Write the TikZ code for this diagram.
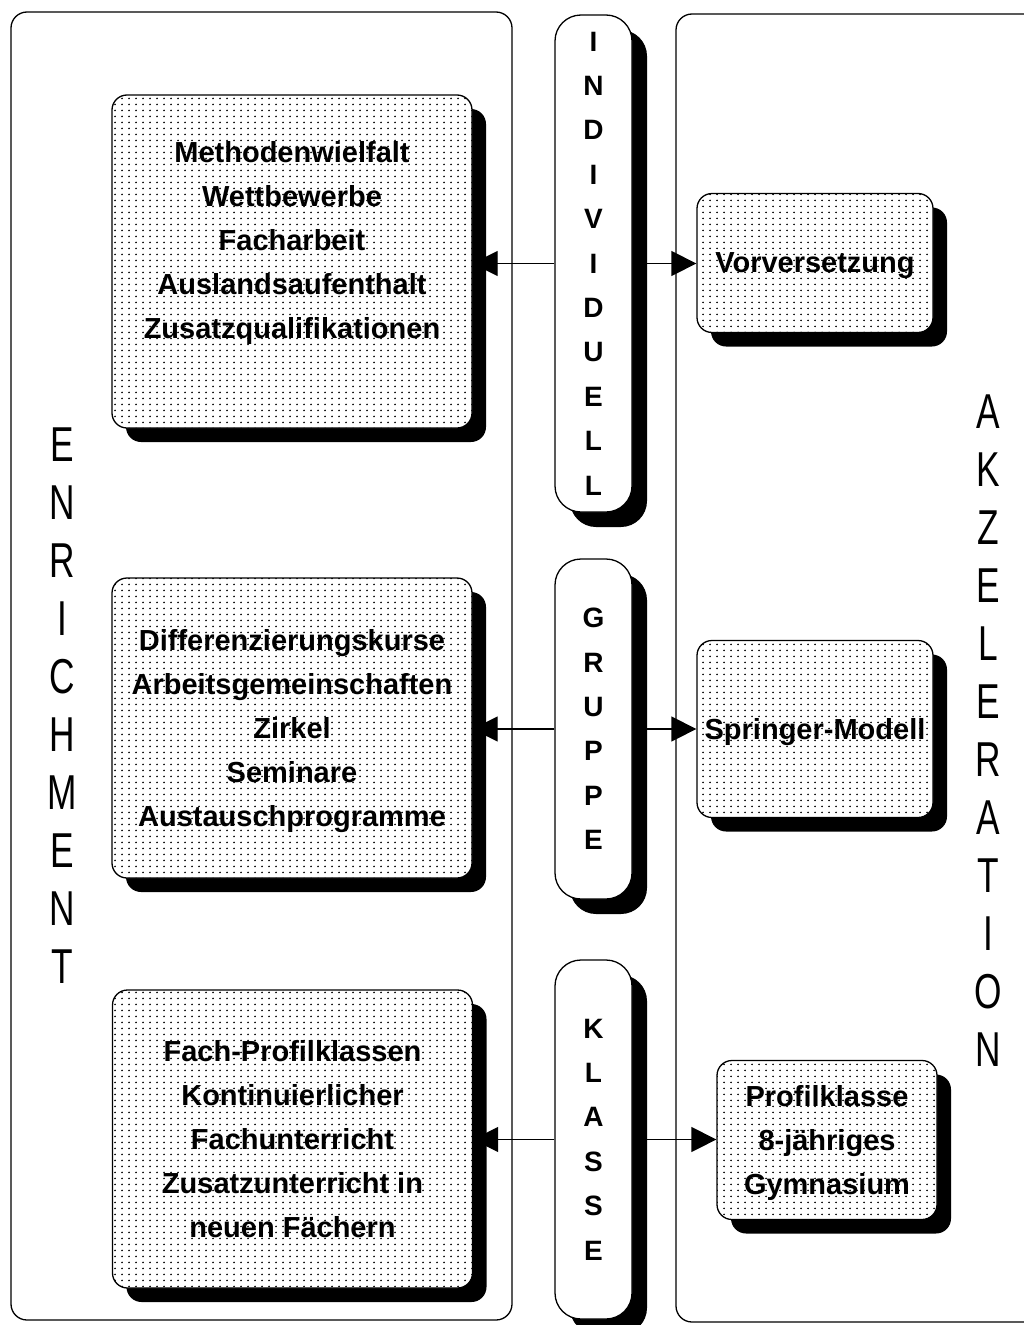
\documentclass[tikz,border=0pt]{standalone}
\usepackage{fontspec}
\setmainfont{Liberation Sans}
\newfontfamily\sidefont[FakeStretch=0.72]{Liberation Sans}
\usetikzlibrary{positioning, shadows, patterns.meta, arrows.meta}

\tikzdeclarepattern{
  name=dotfill,
  type=uncolored,
  bottom left={(0pt,0pt)},
  top right={(7pt,6pt)},
  tile size={(7pt,6pt)},
  code={\fill (3.5pt,3pt) circle (1.05pt);}
}

\begin{document}
\begin{tikzpicture}[
            x=1pt, y=-1pt,
            panel/.style={draw, line width=1.3pt, rounded corners=16pt},
            box/.style={rectangle, draw, line width=1.3pt, rounded corners=15pt, inner sep=0pt, align=center,
                drop shadow={shadow xshift=14pt, shadow yshift=-14pt, fill=black, opacity=1},
                fill=white, postaction={pattern=dotfill, pattern color=black},
                text depth=0pt, font=\bfseries\fontsize{29}{44}\selectfont},
            pill/.style={rectangle, draw, line width=1.3pt, rounded corners=26pt, inner sep=0pt, align=center,
                drop shadow={shadow xshift=15pt, shadow yshift=-15pt, fill=black, opacity=1},
                fill=white, minimum width=77pt, font=\bfseries\fontsize{28}{44.4}\selectfont},
            side/.style={inner sep=0pt, align=center, font=\sidefont\fontsize{49}{58}\selectfont},
            arrow/.style={-{Triangle[length=25pt, width=25pt]}, line width=1.3pt}
        ]
            \useasboundingbox (0,0) rectangle (1023,1325);

            % outer panels
            \draw[panel] (11,12) rectangle (512,1320);
            \draw[panel] (676,14) rectangle (1045,1322);
            \node[side] (enrich) at (62,706) {E\\N\\R\\I\\C\\H\\M\\E\\N\\T};
            \node[side] (akzel) at (988,731) {A\\K\\Z\\E\\L\\E\\R\\A\\T\\I\\O\\N};

            % enrichment boxes
            \node[box, minimum width=360pt, minimum height=333pt] (methoden) at (292,261.5)
                {Methodenwielfalt\\Wettbewerbe\\Facharbeit\\Auslandsaufenthalt\\Zusatzqualifikationen\\\mbox{}};
            \node[box, minimum width=360pt, minimum height=300pt] (kurse) at (292,728)
                {Differenzierungskurse\\Arbeitsgemeinschaften\\Zirkel\\Seminare\\Austauschprogramme};
            \node[box, minimum width=360pt, minimum height=298pt] (profil) at (292.5,1139)
                {Fach-Profilklassen\\Kontinuierlicher\\Fachunterricht\\Zusatzunterricht in\\neuen Fächern};

            % middle column
            \node[pill, minimum height=497pt] (indiv) at (593.5,263.5) {I\\N\\D\\I\\V\\I\\D\\U\\E\\L\\L};
            \node[pill, minimum height=340pt] (gruppe) at (593.5,729) {G\\R\\U\\P\\P\\E};
            \node[pill, minimum height=359pt] (klasse) at (593.5,1139.5) {K\\L\\A\\S\\S\\E};

            % akzeleration boxes
            \node[box, minimum width=236pt, minimum height=139pt] (vorvers) at (815,263) {Vorversetzung};
            \node[box, minimum width=236pt, minimum height=177pt] (springer) at (815,729) {Springer-Modell};
            \node[box, minimum width=220pt, minimum height=159pt] (gymn) at (827,1140)
                {Profilklasse\\8-jähriges\\Gymnasium};

            \draw[arrow] (indiv.west) -- (indiv.west -| methoden.east);
            \draw[arrow] (indiv.east) -- (indiv.east -| vorvers.west);
            \draw[arrow] (gruppe.west) -- (gruppe.west -| kurse.east);
            \draw[arrow] (gruppe.east) -- (gruppe.east -| springer.west);
            \draw[arrow] (klasse.west) -- (klasse.west -| profil.east);
            \draw[arrow] (klasse.east) -- (klasse.east -| gymn.west);
        \end{tikzpicture}
\end{document}
